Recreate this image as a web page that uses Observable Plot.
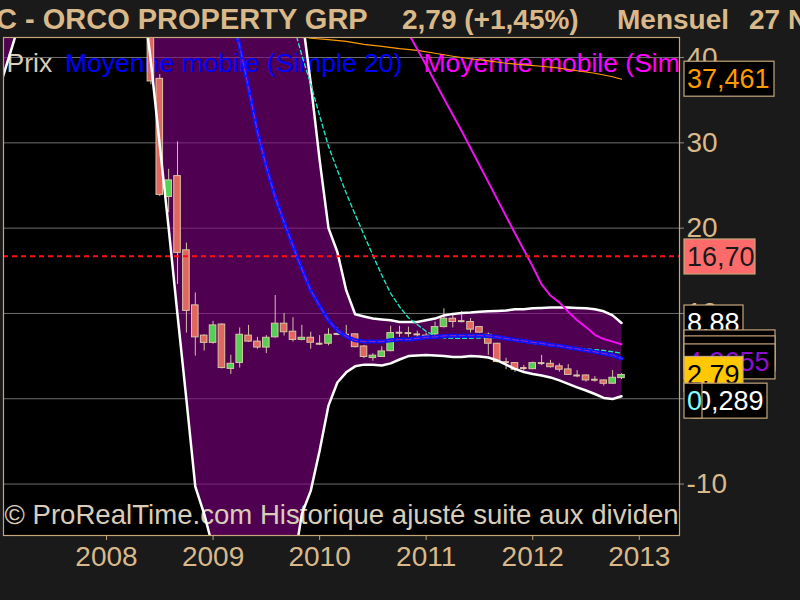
<!DOCTYPE html>
<html>
<head>
<meta charset="utf-8">
<script src="https://cdn.jsdelivr.net/npm/d3@7"></script>
<script src="https://cdn.jsdelivr.net/npm/@observablehq/plot@0.6"></script>
<style>
  html, body { margin: 0; padding: 0; background: #1a1a1a; width: 800px; height: 600px; overflow: hidden; }
  #chart { position: relative; width: 800px; height: 600px; }
  svg { display: block; }
</style>
</head>
<body>
<div id="chart"></div>
<script>
// ---------- DATA ----------
// Monthly candles (ORCO PROPERTY GRP)
const candleMonths = ["2008-06","2008-07","2008-08","2008-09","2008-10","2008-11","2008-12",
  "2009-01","2009-02","2009-03","2009-04","2009-05","2009-06","2009-07","2009-08","2009-09","2009-10","2009-11","2009-12",
  "2010-01","2010-02","2010-03","2010-04","2010-05","2010-06","2010-07","2010-08","2010-09","2010-10","2010-11","2010-12",
  "2011-01","2011-02","2011-03","2011-04","2011-05","2011-06","2011-07","2011-08","2011-09","2011-10","2011-11","2011-12",
  "2012-01","2012-02","2012-03","2012-04","2012-05","2012-06","2012-07","2012-08","2012-09","2012-10","2012-11"];
const openV  = [46, 37.5, 23.65, 26.1, 17.4, 10.95, 7.4,
  6.55, 8.7, 3.5, 4.2, 7.4, 6.7, 6.0, 7.2, 8.8, 7.86, 6.9, 7.15,
  6.45, 6.45, 7.6, 7.5, 7.55, 6.13, 4.77, 4.9, 5.58, 7.74, 7.7, 7.55,
  7.3, 7.55, 8.4, 9.38, 9.1, 9.0, 8.4, 7.5, 6.45, 4.3, 4.18, 3.6,
  3.47, 4.18, 4.1, 3.8, 3.44, 2.73, 2.73, 2.23, 2.15, 1.76, 2.42];
const highV  = [47, 38.0, 26.9, 30.1, 18.25, 12.4, 7.5,
  9.07, 8.8, 5.1, 8.3, 8.6, 7.2, 7.4, 12.1, 10.0, 9.5, 8.6, 7.8,
  7.4, 8.2, 8.3, 8.6, 7.6, 6.25, 5.28, 6.1, 8.5, 8.5, 8.4, 7.93,
  7.7, 9.0, 10.55, 9.9, 10.2, 9.4, 8.45, 7.7, 6.5, 4.75, 4.25, 3.9,
  4.3, 5.08, 4.5, 4.1, 4.0, 3.3, 2.8, 2.6, 2.2, 3.3, 2.93];
const lowV   = [36.8, 23.7, 21.8, 13.4, 7.7, 5.0, 5.6,
  6.4, 3.5, 2.85, 3.6, 6.6, 5.8, 5.3, 7.1, 7.35, 6.65, 6.8, 5.8,
  6.25, 6.2, 7.4, 7.3, 5.95, 4.7, 4.4, 4.85, 5.5, 7.2, 7.2, 7.2,
  7.2, 7.4, 8.3, 8.3, 8.9, 7.7, 7.7, 5.1, 4.2, 3.4, 3.1, 3.25,
  3.4, 3.9, 3.6, 3.12, 2.75, 2.46, 1.95, 1.95, 1.48, 1.7, 2.23];
const closeV = [37.2, 23.9, 25.6, 17.1, 10.3, 7.2, 6.55,
  8.6, 3.6, 4.1, 7.5, 6.7, 6.0, 7.15, 8.8, 7.8, 6.9, 7.15, 6.57,
  6.45, 7.5, 7.6, 7.5, 6.05, 4.9, 5.05, 5.55, 7.7, 7.74, 7.7, 7.55,
  7.4, 8.4, 9.38, 9.0, 9.1, 8.1, 7.75, 6.45, 4.3, 4.3, 3.4, 3.6,
  4.18, 4.18, 3.7, 3.4, 2.8, 2.73, 2.15, 2.23, 1.76, 2.46, 2.79];

// Bollinger bands, monthly from 2007-01 to 2012-11
const bandStart = "2007-01";
const upperBand = [105,110,114,118,121,123,124,124,123,122,121,120,
  120,121,122,123,124,125,125,125,124,123,122,122,
  122,122,117,112,104,95,86,77,67,55,45,
  37.0,28,20,17.2,12.7,9.9,9.65,9.4,9.3,9.2,9.0,9.0,9.0,9.2,9.4,9.77,9.95,10.06,10.1,10.2,10.25,10.3,10.35,
  10.5,10.5,10.6,10.65,10.7,10.7,10.7,10.65,10.6,10.5,10.25,9.77,8.88];
const lowerBand = [36.6,40.0,43.4,47,51,55,58,60,61,61,60,58,
  56,54,52,50,48,39.5,29.7,20,9.8,-0.1,-10.3,-13.5,
  -17.5,-22,-26,-29,-31,-32,-32,-30,-26,-20,-13.5,
  -10.8,-6.1,-0.8,1.9,3.1,3.8,4.0,4.0,3.9,4.15,4.6,5.0,5.08,5.14,5.08,5.0,4.9,4.9,
  5.0,4.96,4.84,4.5,4.0,3.5,3.14,2.9,2.73,2.5,2.15,1.74,1.33,0.97,0.56,0.1,-0.02,0.289];

// Moyenne mobile (Simple 20), monthly from 2009-02
const sma20Start = "2009-02";
const sma20 = [50,45.5,41.3,36.4,31.3,27.2,23.6,20.7,17.9,15.2,12.7,10.9,9.2,8.0,7.3,6.85,6.7,6.7,6.7,6.85,
  6.95,6.95,7.07,7.2,7.25,7.37,7.4,7.4,7.4,7.4,7.37,7.25,7.07,6.9,6.78,6.6,6.5,6.3,6.2,6.0,
  5.85,5.67,5.5,5.3,5.1,4.73];

// Second moving average (magenta)
const maMagMonths = ["2010-10","2010-11","2011-01","2011-03","2011-05","2011-07","2011-09","2011-11","2012-01",
  "2012-02","2012-03","2012-04","2012-05","2012-06","2012-07","2012-08","2012-09","2012-10","2012-11"];
const maMagValues = [44.7,42.85,39.1,35.2,31.4,27.4,23.4,19.4,15.5,13.4,12.1,11.3,10.2,9.2,8.4,7.5,7.0,6.7,6.4];

// Cyan dotted average
const maCyanMonths = ["2009-10","2009-11","2009-12","2010-01","2010-02","2010-03","2010-04","2010-05","2010-06",
  "2010-07","2010-08","2010-09","2010-10","2010-11","2010-12","2011-01","2011-02","2011-03","2011-05","2011-07",
  "2011-09","2011-11","2012-01","2012-03","2012-05","2012-07","2012-09","2012-11"];
const maCyanValues = [44.0,40.25,36.9,33.2,29.6,26.8,24.1,21.6,19.2,16.8,14.5,12.35,10.8,9.5,8.7,7.9,7.37,7.13,
  7.07,7.13,7.2,6.84,6.5,6.25,6.04,5.84,5.67,5.35];

// Orange long average
const maOrangeMonths = ["2009-10","2009-11","2009-12","2010-02","2010-04","2010-06","2010-08","2010-10","2010-12",
  "2011-02","2011-04","2011-06","2011-08","2011-10","2011-12","2012-02","2012-04","2012-06","2012-08","2012-10","2012-11"];
const maOrangeValues = [42.8,42.5,42.26,42.1,41.9,41.55,41.3,41.05,40.85,40.5,40.15,39.86,39.6,39.33,39.15,38.98,
  38.75,38.45,38.16,37.75,37.461];

const redLevel = 16.70;

// Axis ticks
const yTicks = [-10, 0, 10, 20, 30, 40];
const yTickLabels = ["-10", "0", "10", "20", "30", "40"];
const xTickYears = [2008, 2009, 2010, 2011, 2012, 2013];
const xTickLabels = ["2008", "2009", "2010", "2011", "2012", "2013"];

// Right-side value tags (level where the tag sits, text)
const tagTexts  = ["37,461", "16,70", "8,88", "", "", "4,9655", "2,79", "0,289", "0"];
const tagLevels = [37.461, 16.62, 8.88, 5.96, 5.26, 4.32, 2.85, -0.28, -0.28];

// Texts
const titleParts = ["C - ORCO PROPERTY GRP", "2,79 (+1,45%)", "Mensuel", "27 Nov 2012"];
const legendParts = ["Prix", "Moyenne mobile (Simple 20)", "Moyenne mobile (Simple 50)"];
const footerText = "© ProRealTime.com Historique ajusté suite aux dividendes";

// ---------- STYLE / LAYOUT ----------
const FONT = "'Liberation Sans', Arial, sans-serif";
const TAN = "#d9b98a";
const BEIGE = "#d9cdb7";
const FRAME = "#c4a67a";
const tagTextColors = ["#ff9a00", "#1a1a1a", "#ffffff", "#ff00ff", "#00e5ff", "#8a10d0", "#000000", "#ffffff", "#80ffff"];
const tagFillColors = ["#000", "#ff6b6b", "#000", "#000", "#000", "#000", "#ffc800", "#000", "#000"];
const tagX = [684, 684, 684, 684, 684, 684, 684, 693, 684];
const tagW = [90, 71, 59, 91, 91, 91, 59, 74, 18];
const titleX = [-4, 402, 617, 749];
const titleSize = [29, 28, 28, 28];

// ---------- BUILD ----------
const mIdx = s => { const [y, m] = s.split("-").map(Number); return (y - 2008) * 12 + (m - 1); };

const candles = candleMonths.map((d, i) => ({m: mIdx(d), o: openV[i], h: highV[i], l: lowV[i], c: closeV[i]}));
const bodies = candles.filter(d => d.o !== d.c);
const dojis = candles.filter(d => d.o === d.c);
const b0 = mIdx(bandStart);
const bands = upperBand.map((u, i) => ({m: b0 + i, u, l: lowerBand[i]}));
const s0 = mIdx(sma20Start);
const smaRows = sma20.map((v, i) => ({m: s0 + i, v}));
const magRows = maMagMonths.map((d, i) => ({m: mIdx(d), v: maMagValues[i]}));
const cyanRows = maCyanMonths.map((d, i) => ({m: mIdx(d), v: maCyanValues[i]}));
const orangeRows = maOrangeMonths.map((d, i) => ({m: mIdx(d), v: maOrangeValues[i]}));
const xTicks = xTickYears.map(y => (y - 2008) * 12);

const HW = 0.37; // half candle width in months

const plot = Plot.plot({
  width: 800, height: 600,
  marginTop: 37, marginBottom: 65, marginLeft: 3, marginRight: 121,
  style: {background: "#1a1a1a", color: TAN, fontFamily: FONT, fontSize: "28px", overflow: "visible"},
  x: {domain: [-11.6, 64.53], axis: null},
  y: {domain: [-16.03, 42.35], axis: null},
  marks: [
    Plot.frame({fill: "#000", stroke: null}),
    Plot.gridY(yTicks, {stroke: "#6e6e6e", strokeOpacity: 1, strokeWidth: 1}),
    Plot.areaY(bands, {x: "m", y1: "l", y2: "u", fill: "#860085", fillOpacity: 0.6, clip: true, curve: "linear"}),
    Plot.text([legendParts[0]], {frameAnchor: "top-left", text: d => d, dx: 3, dy: 15.5, fill: BEIGE, fontSize: 26.5, textAnchor: "start", clip: true}),
    Plot.text([legendParts[1]], {frameAnchor: "top-left", text: d => d, dx: 61.5, dy: 15.5, fill: "#0000ff", fontSize: 26.5, textAnchor: "start", clip: true}),
    Plot.text([legendParts[2]], {frameAnchor: "top-left", text: d => d, dx: 420, dy: 15.5, fill: "#ff00ff", fontSize: 26.5, textAnchor: "start", clip: true}),
    Plot.text([footerText], {frameAnchor: "bottom-left", text: d => d, dx: 1, dy: -12, fill: BEIGE, fontSize: 27.6, textAnchor: "start", clip: true}),
    Plot.ruleX(candles, {x: "m", y1: "l", y2: "h", stroke: "#d4c4a6", strokeWidth: 1, clip: true}),
    Plot.rect(bodies, {x1: d => d.m - HW, x2: d => d.m + HW, y1: "o", y2: "c",
      fill: d => d.c > d.o ? "#55d055" : "#e0665f", stroke: "#d8c6a4", strokeWidth: 1, clip: true}),
    Plot.ruleY(dojis, {y: "o", x1: d => d.m - HW, x2: d => d.m + HW, stroke: "#d8c6a4", strokeWidth: 2, clip: true}),
    Plot.line(bands, {x: "m", y: "u", stroke: "#ffffff", strokeWidth: 2.5, clip: true}),
    Plot.line(bands, {x: "m", y: "l", stroke: "#ffffff", strokeWidth: 2.5, clip: true}),
    Plot.line(orangeRows, {x: "m", y: "v", stroke: "#ff9a00", strokeWidth: 1.2, clip: true}),
    Plot.line(cyanRows, {x: "m", y: "v", stroke: "#1de6c4", strokeWidth: 1.4, strokeDasharray: "4,3", clip: true}),
    Plot.line(magRows, {x: "m", y: "v", stroke: "#f010f0", strokeWidth: 2, clip: true}),
    Plot.line(smaRows, {x: "m", y: "v", stroke: "#0a14ff", strokeWidth: 4, clip: true}),
    Plot.line(smaRows, {x: "m", y: "v", stroke: "#a020b0", strokeWidth: 1, strokeDasharray: "6,3", clip: true}),
    Plot.ruleY([redLevel], {stroke: "#ff1010", strokeWidth: 2, strokeDasharray: "5,4", clip: true}),
    Plot.axisY(yTicks, {anchor: "right", label: null, tickSize: 4, tickPadding: 3, stroke: "#8a8a8a", fill: TAN,
      fontSize: 28, textAnchor: "start", tickFormat: (d, i) => yTickLabels[i]}),
    Plot.axisX(xTicks, {anchor: "bottom", label: null, tickSize: 5, tickPadding: 6, stroke: FRAME, fill: TAN,
      fontSize: 28, tickFormat: (d, i) => xTickLabels[i]}),
    Plot.frame({stroke: FRAME, strokeWidth: 1.2})
  ]
});

document.getElementById("chart").appendChild(plot);

// ---------- OVERLAYS (title and value tags) ----------
const svg = d3.select(plot);
const ys = plot.scale("y");

const tg = svg.append("g").attr("font-family", FONT).attr("font-weight", "bold")
  .attr("fill", TAN).attr("text-anchor", "start");
titleParts.forEach((t, i) => tg.append("text").attr("x", titleX[i]).attr("y", 28.5)
  .attr("font-size", titleSize[i]).attr("text-anchor", "start").text(t));

const tagG = svg.append("g").attr("font-family", FONT).attr("font-size", 27).attr("text-anchor", "start");
tagTexts.forEach((t, i) => {
  const cy = ys.apply(tagLevels[i]);
  tagG.append("rect").attr("x", tagX[i]).attr("y", cy - 17.5).attr("width", tagW[i]).attr("height", 35)
    .attr("fill", tagFillColors[i]).attr("stroke", FRAME).attr("stroke-width", 1.2);
  if (t) tagG.append("text").attr("x", tagX[i] + 3).attr("y", cy).attr("dy", "0.36em")
    .attr("text-anchor", "start").attr("fill", tagTextColors[i]).text(t);
});
</script>
</body>
</html>
